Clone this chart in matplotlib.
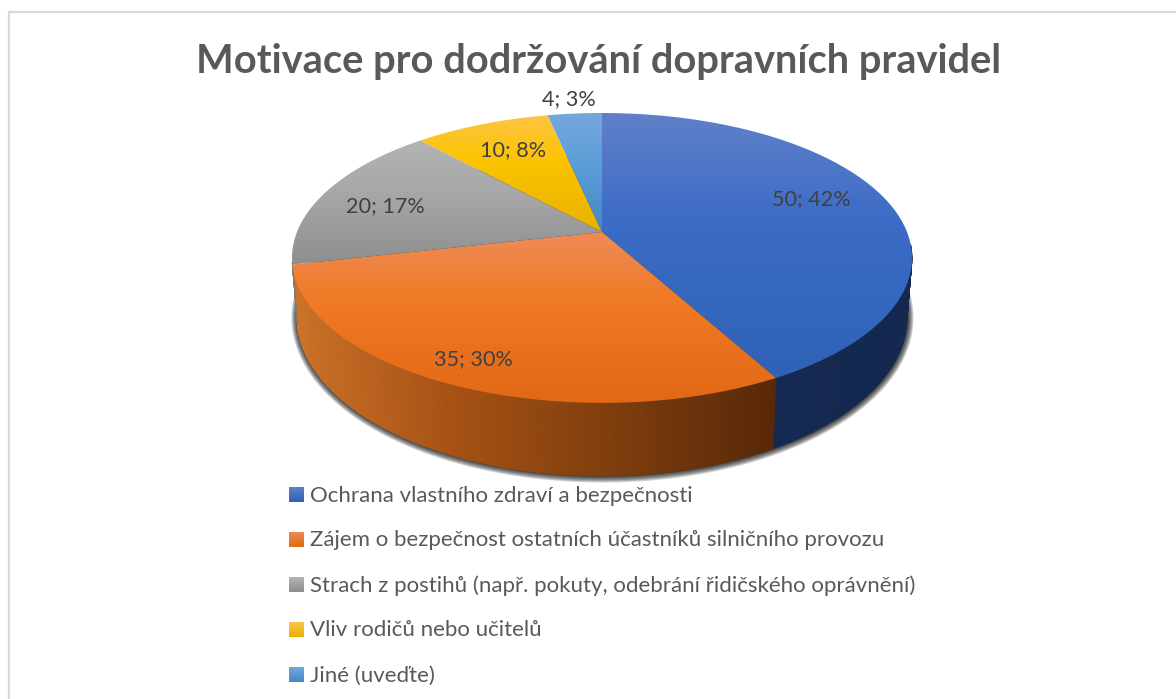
import numpy as np
import matplotlib
matplotlib.use("Agg")
import matplotlib.pyplot as plt
from matplotlib.colors import to_rgb
from matplotlib.patches import Polygon
from matplotlib.collections import PolyCollection

plt.rcParams['font.family'] = ['Lato', 'Open Sans', 'DejaVu Sans']

title = "Motivace pro dodržování dopravních pravidel"
categories = ["Ochrana vlastního zdraví a bezpečnosti",
              "Zájem o bezpečnost ostatních účastníků silničního provozu",
              "Strach z postihů (např. pokuty, odebrání řidičského oprávnění)",
              "Vliv rodičů nebo učitelů",
              "Jiné (uveďte)"]
values = [50, 35, 20, 10, 4]
percent_labels = ["42%", "30%", "17%", "8%", "3%"]

top_stops = [
    [(113, "#6080c8"), (220, "#3c6cc6"), (380, "#2f62b6")],
    [(240, "#ee8a52"), (300, "#f07a26"), (403, "#e26815")],
    [(140, "#b4b4b4"), (200, "#a5a5a5"), (265, "#8e8e8e")],
    [(113, "#fdc548"), (160, "#fcc400"), (232, "#e4b200")],
    [(113, "#74a8dc"), (170, "#5a9cd8"), (232, "#4587c6")],
]
wall_stops = [
    [(772, "#152a52"), (907, "#142850")],
    [(297, "#cc7228"), (450, "#a85215"), (570, "#8a430f"), (776, "#582808")],
    [(290, "#777777"), (300, "#777777")],
    [(290, "#998000"), (300, "#998000")],
    [(290, "#3c6c9c"), (300, "#3c6c9c")],
]
label_xy = [(811, 199), (473, 359), (385, 206), (513, 150), (569, 99)]

W, H = 1176, 699
CX, CY = 602.0, 232.0
RX, RY, K = 305.0, 140.3, 0.179
BOT_CY, BOT_RX, BOT_RY = 288.5, 300.0, 153.9


def unit(t):
    a = np.radians(t)
    sx, sy = np.sin(a), np.cos(a)
    d = 1 + K * sy
    return sx / d, -sy / d


def top_pts(t):
    x, y = unit(t)
    return np.column_stack([CX + RX * x, CY + RY * y])


def bot_pts(t, grow_x=0.0, grow_y=0.0):
    x, y = unit(t)
    return np.column_stack([CX + (BOT_RX + grow_x) * x,
                            BOT_CY + (BOT_RY + grow_y) * y])


def interp(stops, v):
    xs = [s[0] for s in stops]
    cs = np.array([to_rgb(s[1]) for s in stops])
    return np.column_stack([np.interp(v, xs, cs[:, i]) for i in range(3)])


fig = plt.figure(figsize=(W / 100, H / 100), dpi=100, facecolor="white")
ax = fig.add_axes([0, 0, 1, 1])
ax.axis("off")

# frame
ax.plot([8.5, 8.5, W], [H, 11.5, 11.5], color="#d9d9d9", lw=1.6, zorder=1)

rows = np.arange(H) + 0.5


def grad_fill(poly, stops, zorder):
    patch = Polygon(poly, closed=True, facecolor="none", edgecolor="none",
                    transform=ax.transData)
    ax.add_patch(patch)
    img = interp(stops, rows).reshape(H, 1, 3)
    im = ax.imshow(img, extent=(0, W, H, 0), aspect="auto", zorder=zorder,
                   interpolation="bilinear")
    im.set_clip_path(patch)


# shadow
all_t = np.linspace(0, 360, 361)
for e in [6, 5, 4, 3, 2, 1, 0.5]:
    p = bot_pts(all_t, grow_x=1.0 * e, grow_y=0.9 * e)
    ax.fill(p[:, 0] + 0.5, p[:, 1], color="black", alpha=0.18, lw=0, zorder=2)

# walls and top faces from the values
edges = np.concatenate([[0], np.cumsum(values)]) / np.sum(values) * 360
for i in range(len(values)):
    a0, a1 = edges[i], edges[i + 1]
    lo, hi = max(a0, 95.0), min(a1, 258.0)
    if hi > lo:
        ts = np.linspace(lo, hi, int((hi - lo) * 2) + 2)
        tp, bt = top_pts(ts), bot_pts(ts)
        quads = [[tp[j], tp[j + 1], bt[j + 1], bt[j]] for j in range(len(ts) - 1)]
        cols = interp(wall_stops[i], (tp[:-1, 0] + tp[1:, 0]) / 2)
        ax.add_collection(PolyCollection(quads, facecolors=cols, edgecolors=cols,
                                         linewidths=0.5, zorder=3))

for i in range(len(values)):
    a0, a1 = edges[i], edges[i + 1]
    ts = np.linspace(a0, a1, int(a1 - a0) * 2 + 2)
    poly = np.vstack([[CX, CY], top_pts(ts)])
    grad_fill(poly, top_stops[i], 4 + i * 0.01)

# data labels
for (x, y), v, p in zip(label_xy, values, percent_labels):
    ax.text(x, y, f"{v}; {p}", ha="center", va="center", color="#404040",
            fontsize=15.6, zorder=6)

# title
ax.text(598.5, 61, title, ha="center", va="center", color="#595959",
        fontsize=28.7, fontweight="bold", zorder=6)

# legend
legend_y = [495, 540, 585, 630, 675]
for i, (name, y) in enumerate(zip(categories, legend_y)):
    sw = [[289, y - 8], [303.5, y - 8], [303.5, y + 7], [289, y + 7]]
    first, last = top_stops[i][0], top_stops[i][-1]
    s = [(y - 8, first[1]), (y + 7, last[1])]
    grad_fill(sw, s, 5)
    ax.text(310, y + 0.5, name, ha="left", va="center", color="#595959",
            fontsize=16.0, zorder=6)

ax.set_xlim(0, W)
ax.set_ylim(H, 0)
fig.savefig("out.png", dpi=100)
